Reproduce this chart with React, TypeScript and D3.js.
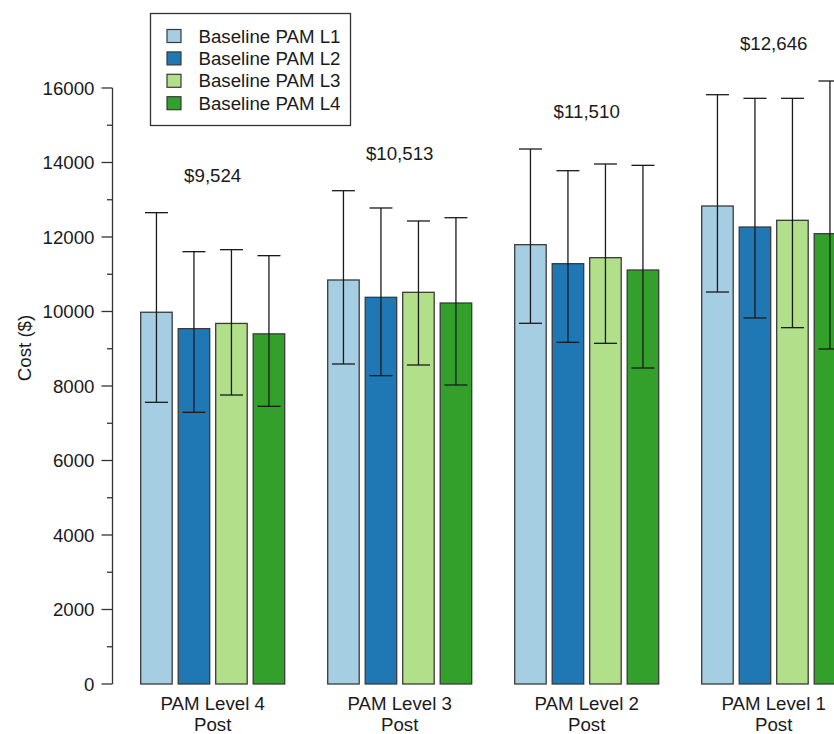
import React from "react";
import * as d3 from "d3";

const groups = ["PAM Level 4", "PAM Level 3", "PAM Level 2", "PAM Level 1"];
const groupSub = ["Post", "Post", "Post", "Post"];
const series = ["Baseline PAM L1", "Baseline PAM L2", "Baseline PAM L3", "Baseline PAM L4"];
const colors = ["#a6cee3", "#1f78b4", "#b2df8a", "#33a02c"];

// rows: groups, cols: series
const means = [
  [9980, 9540, 9680, 9400],
  [10846, 10381, 10515, 10228],
  [11794, 11284, 11445, 11114],
  [12832, 12268, 12448, 12089],
];
const upper = [
  [12653, 11606, 11660, 11499],
  [13243, 12779, 12430, 12518],
  [14362, 13780, 13960, 13924],
  [15820, 15723, 15723, 16188],
];
const lower = [
  [7562, 7293, 7758, 7454],
  [8591, 8277, 8564, 8027],
  [9683, 9173, 9146, 8483],
  [10523, 9826, 9566, 8993],
];
const totals = ["$9,524", "$10,513", "$11,510", "$12,646"];
const yTicks = [0, 2000, 4000, 6000, 8000, 10000, 12000, 14000, 16000];
const yMinor = [1000, 3000, 5000, 7000, 9000, 11000, 13000, 15000];

const W = 834;
const H = 734;
const FONT = "'Liberation Sans', Arial, Helvetica, sans-serif";
const FS = 18.7;

export default function App() {
  const y = d3.scaleLinear().domain([0, 16000]).range([684, 88]);
  const x0 = d3
    .scaleBand<string>()
    .domain(groups)
    .range([140.7, 140.7 + 4 * 187 - 43])
    .paddingInner(43 / 187)
    .paddingOuter(0);
  const x1 = d3
    .scaleBand<string>()
    .domain(series)
    .range([0, x0.bandwidth()])
    .paddingInner(0.16)
    .paddingOuter(0);
  const axisX = 112.5;
  const capHalf = 11.5;
  const labelOffset = 1000;

  return (
    <svg
      width={W}
      height={H}
      viewBox={`0 0 ${W} ${H}`}
      style={{ position: "absolute", left: 0, top: 0, background: "#fff" }}
      fontFamily={FONT}
    >
      <rect x={0} y={0} width={W} height={H} fill="#fff" />
      {/* Bars */}
      {groups.map((g, gi) => (
        <g key={g} transform={`translate(${x0(g)},0)`}>
          {series.map((s, si) => {
            const bx = x1(s)!;
            const bw = x1.bandwidth();
            const v = means[gi][si];
            return (
              <rect
                key={s}
                x={bx}
                y={y(v)}
                width={bw}
                height={y(0) - y(v)}
                fill={colors[si]}
                stroke="#3a3a3a"
                strokeWidth={1.3}
              />
            );
          })}
          {series.map((s, si) => {
            const cx = x1(s)! + x1.bandwidth() / 2;
            const yu = y(upper[gi][si]);
            const yl = y(lower[gi][si]);
            return (
              <g key={s + "e"} stroke="#1a1a1a" strokeWidth={1.3}>
                <line x1={cx} x2={cx} y1={yu} y2={yl} />
                <line x1={cx - capHalf} x2={cx + capHalf} y1={yu} y2={yu} />
                <line x1={cx - capHalf} x2={cx + capHalf} y1={yl} y2={yl} />
              </g>
            );
          })}
          <text
            x={x0.bandwidth() / 2}
            y={y(d3.max(upper[gi])! + labelOffset)}
            textAnchor="middle"
            dominantBaseline="central"
            fontSize={FS}
            fill="#1a1a1a"
          >
            {totals[gi]}
          </text>
          <text
            x={x0.bandwidth() / 2}
            y={709.5}
            textAnchor="middle"
            fontSize={FS}
            fill="#1a1a1a"
          >
            {g}
          </text>
          <text
            x={x0.bandwidth() / 2}
            y={730.5}
            textAnchor="middle"
            fontSize={FS}
            fill="#1a1a1a"
          >
            {groupSub[gi]}
          </text>
        </g>
      ))}
      {/* Y axis */}
      <g stroke="#333" strokeWidth={1.3}>
        <line x1={axisX} x2={axisX} y1={y(0)} y2={y(16000)} />
        {yTicks.map((t) => (
          <line key={t} x1={axisX - 11} x2={axisX} y1={y(t)} y2={y(t)} />
        ))}
        {yMinor.map((t) => (
          <line key={t} x1={axisX - 5.5} x2={axisX} y1={y(t)} y2={y(t)} />
        ))}
      </g>
      {yTicks.map((t) => (
        <text
          key={t}
          x={94.5}
          y={y(t)}
          textAnchor="end"
          dominantBaseline="central"
          fontSize={FS}
          fill="#1a1a1a"
        >
          {t}
        </text>
      ))}
      <text
        transform={`translate(24,348) rotate(-90)`}
        textAnchor="middle"
        dominantBaseline="central"
        fontSize={FS}
        fill="#1a1a1a"
      >
        Cost ($)
      </text>
      {/* Legend */}
      <rect x={150.5} y={13.5} width={200} height={112} fill="#fff" stroke="#333" strokeWidth={1.3} />
      {series.map((s, si) => {
        const cy = 36 + si * 22.4;
        return (
          <g key={s}>
            <rect x={167} y={cy - 6.5} width={14} height={13} fill={colors[si]} stroke="#3a3a3a" strokeWidth={1.2} />
            <text x={198.5} y={cy} dominantBaseline="central" fontSize={FS} fill="#1a1a1a">
              {s}
            </text>
          </g>
        );
      })}
    </svg>
  );
}
